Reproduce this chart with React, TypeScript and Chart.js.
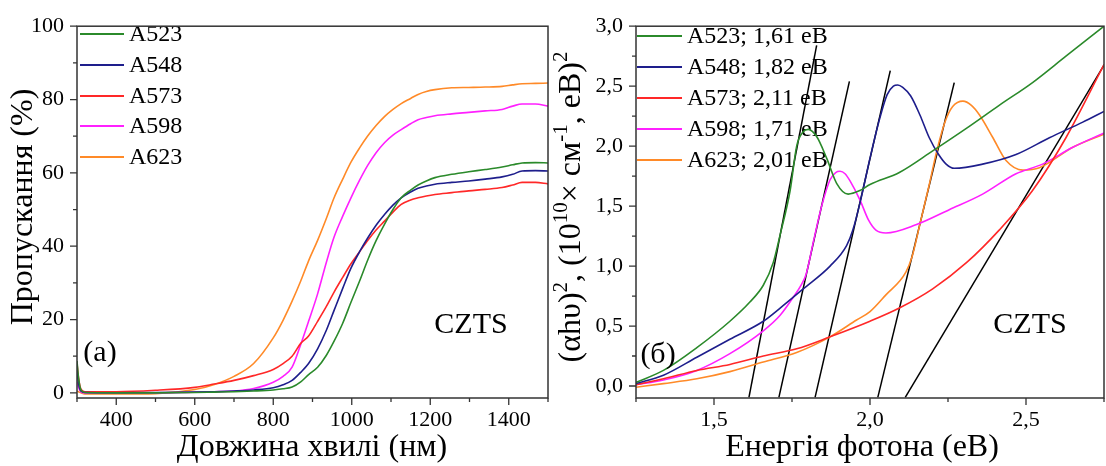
import { useEffect, useRef } from 'react';
import { Chart, registerables } from 'chart.js';
Chart.register(...registerables);

const SERIF = '"Liberation Serif", serif';
const AXIS = '#333333';

// ---------- shared series info ----------
const sampleNames = ['A523', 'A548', 'A573', 'A598', 'A623'];
const sampleColors = ['#2b8a2b', '#1e1e8c', '#ff2828', '#ff20ff', '#ff8a28'];
const gapLabels = ['1,61', '1,82', '2,11', '1,71', '2,01'];

// ---------- left panel: transmission ----------
const wavelengthNm = [300, 304, 310, 320, 400, 500, 600, 650, 700, 750, 800, 825, 848, 870, 890, 913, 935, 955, 977, 998, 1020, 1041, 1062, 1084, 1105, 1126, 1150, 1169, 1190, 1212, 1255, 1298, 1340, 1383, 1410, 1434, 1468, 1500];
const trA523 = [8.7, 4, 0.8, 0.1, 0, 0, 0.1, 0.2, 0.3, 0.5, 0.8, 1.1, 1.6, 3.0, 5.0, 7.0, 10.2, 14.1, 19, 24.7, 30.5, 36.3, 41.5, 46.1, 50, 53.2, 55.3, 56.7, 57.8, 58.7, 59.6, 60.3, 60.9, 61.6, 62.2, 62.7, 62.8, 62.7];
const trA548 = [6, 2.5, 0.5, 0.1, 0.05, 0.1, 0.2, 0.3, 0.5, 0.8, 1.4, 2.2, 3.4, 5.6, 8, 12, 17, 22.5, 28.5, 34, 38.5, 42.3, 45.7, 48.7, 51.2, 53.2, 54.8, 55.8, 56.4, 56.9, 57.4, 57.8, 58.3, 58.9, 59.6, 60.5, 60.6, 60.5];
const trA573 = [8, 4, 1, 0.3, 0.3, 0.7, 1.5, 2.4, 3.4, 4.7, 6.4, 8, 10, 13.5, 15.5, 19.5, 23.5, 27.5, 31.5, 35.2, 38.5, 41.6, 44.4, 46.9, 49.3, 51.4, 52.6, 53.2, 53.7, 54.1, 54.6, 55.1, 55.5, 56.0, 56.7, 57.4, 57.4, 57.0];
const trA598 = [3, 1.5, 0.3, 0, 0, 0, 0.2, 0.3, 0.5, 1.2, 2.9, 4.5, 7, 13.2, 19.5, 27, 35.5, 42.5, 48.2, 53.2, 58, 62.1, 65.5, 68.3, 70.3, 71.8, 73.4, 74.5, 75.1, 75.6, 76.1, 76.5, 76.9, 77.3, 78.2, 78.8, 78.8, 78.2];
const trA623 = [0.5, 0.3, 0, -0.3, -0.3, -0.2, 0.9, 2.3, 4.5, 8, 15, 19.8, 25, 30.5, 36, 41.6, 47.5, 53.2, 58.3, 62.9, 66.8, 70.1, 72.9, 75.4, 77.3, 78.9, 80.3, 81.4, 82.2, 82.7, 83.2, 83.3, 83.4, 83.6, 84.0, 84.3, 84.4, 84.5];
const leftXTicks = [400, 600, 800, 1000, 1200, 1400];
const leftYTicks = [0, 20, 40, 60, 80, 100];

// ---------- right panel: Tauc plot ----------
const eA523 = [1.25, 1.338, 1.445, 1.551, 1.615, 1.658, 1.69, 1.711, 1.744, 1.765, 1.786, 1.802, 1.829, 1.861, 1.893, 1.93, 1.968, 2.0, 2.094, 2.201, 2.31, 2.414, 2.521, 2.628, 2.75];
const vA523 = [0.03, 0.13, 0.32, 0.54, 0.70, 0.84, 1.03, 1.25, 1.63, 2.0, 2.12, 2.14, 2.08, 1.90, 1.69, 1.60, 1.63, 1.68, 1.78, 1.96, 2.15, 2.34, 2.53, 2.75, 3.0];
const eA548 = [1.25, 1.338, 1.445, 1.551, 1.658, 1.712, 1.786, 1.872, 1.925, 1.945, 1.97, 2.0, 2.03, 2.055, 2.075, 2.089, 2.105, 2.13, 2.16, 2.19, 2.22, 2.244, 2.27, 2.361, 2.468, 2.575, 2.682, 2.75];
const vA548 = [0.02, 0.09, 0.24, 0.39, 0.54, 0.65, 0.81, 1.0, 1.17, 1.3, 1.55, 1.9, 2.22, 2.43, 2.5, 2.51, 2.49, 2.42, 2.26, 2.07, 1.93, 1.85, 1.815, 1.85, 1.93, 2.07, 2.20, 2.29];
const eA573 = [1.25, 1.338, 1.445, 1.551, 1.658, 1.765, 1.872, 2.0, 2.094, 2.201, 2.31, 2.414, 2.521, 2.628, 2.75];
const vA573 = [0.01, 0.06, 0.13, 0.18, 0.25, 0.31, 0.41, 0.54, 0.65, 0.81, 1.03, 1.30, 1.63, 2.07, 2.68];
const eA598 = [1.25, 1.338, 1.445, 1.551, 1.658, 1.712, 1.754, 1.781, 1.795, 1.82, 1.845, 1.872, 1.89, 1.904, 1.92, 1.936, 1.968, 1.995, 2.019, 2.051, 2.147, 2.254, 2.361, 2.468, 2.553, 2.65, 2.75];
const vA598 = [0.01, 0.05, 0.13, 0.27, 0.46, 0.59, 0.74, 0.85, 0.93, 1.22, 1.5, 1.72, 1.78, 1.79, 1.77, 1.71, 1.55, 1.385, 1.30, 1.276, 1.344, 1.47, 1.60, 1.77, 1.85, 1.99, 2.11];
const eA623 = [1.25, 1.338, 1.445, 1.551, 1.658, 1.765, 1.872, 1.957, 2.0, 2.051, 2.115, 2.135, 2.16, 2.19, 2.215, 2.24, 2.265, 2.298, 2.325, 2.351, 2.394, 2.436, 2.49, 2.543, 2.65, 2.75];
const vA623 = [-0.01, 0.02, 0.06, 0.12, 0.20, 0.28, 0.41, 0.55, 0.62, 0.76, 0.95, 1.08, 1.35, 1.68, 1.97, 2.2, 2.33, 2.375, 2.34, 2.26, 2.07, 1.88, 1.80, 1.82, 1.99, 2.10];
// linear fits (start at bottom of frame, end at top of drawn segment)
const fitX0 = [1.612, 1.708, 1.824, 2.025, 2.113];
const fitY0 = [-0.095, -0.095, -0.095, -0.095, -0.095];
const fitX1 = [1.829, 1.934, 2.065, 2.27, 2.751];
const fitY1 = [2.84, 2.54, 2.63, 2.53, 2.68];
const rightXTicks = [1.5, 2.0, 2.5];
const rightYTicks = [0, 0.5, 1.0, 1.5, 2.0, 2.5, 3.0];

type Seg = { t: string; sup?: boolean };

function drawRich(ctx: CanvasRenderingContext2D, segs: Seg[], cx: number, cy: number, rotate: boolean, size: number, supSize: number) {
  ctx.save();
  ctx.translate(cx, cy);
  if (rotate) ctx.rotate(-Math.PI / 2);
  ctx.textBaseline = 'alphabetic';
  ctx.textAlign = 'left';
  ctx.fillStyle = '#000';
  let total = 0;
  const widths: number[] = [];
  for (const s of segs) {
    ctx.font = `${s.sup ? supSize : size}px ${SERIF}`;
    const w = ctx.measureText(s.t).width;
    widths.push(w);
    total += w;
  }
  let x = -total / 2;
  segs.forEach((s, i) => {
    ctx.font = `${s.sup ? supSize : size}px ${SERIF}`;
    ctx.fillText(s.t, x, s.sup ? -size * 0.4 : 0);
    x += widths[i];
  });
  ctx.restore();
}

type DecoCfg = {
  xMinorStart: number; xMinorStep: number; xMajor: number[];
  yMinorStart: number; yMinorStep: number; yMajor: number[];
  legendX0: number; legendX1: number; legendTextX: number; legendRows: number[]; legendLabels: string[];
  xTitle: { segs: Seg[]; x: number; y: number };
  yTitle: { segs: Seg[]; x: number; y: number };
  texts: { t: string; x: number; y: number; size: number }[];
};

function makeDeco(cfg: DecoCfg) {
  return {
    id: 'deco',
    beforeDatasetsDraw(chart: any) {
      const ctx: CanvasRenderingContext2D = chart.ctx;
      ctx.save();
      ctx.font = `24px ${SERIF}`;
      ctx.textBaseline = 'middle';
      ctx.textAlign = 'left';
      cfg.legendLabels.forEach((lab, i) => {
        const y = cfg.legendRows[i];
        ctx.strokeStyle = sampleColors[i];
        ctx.lineWidth = 1.8;
        ctx.beginPath();
        ctx.moveTo(cfg.legendX0, y);
        ctx.lineTo(cfg.legendX1, y);
        ctx.stroke();
        ctx.fillStyle = '#000';
        ctx.fillText(lab, cfg.legendTextX, y + 1);
      });
      ctx.restore();
    },
    afterDraw(chart: any) {
      const ctx: CanvasRenderingContext2D = chart.ctx;
      const a = chart.chartArea;
      const xs = chart.scales.x;
      const ys = chart.scales.y;
      ctx.save();
      ctx.strokeStyle = AXIS;
      ctx.lineWidth = 1.5;
      ctx.strokeRect(a.left, a.top, a.right - a.left, a.bottom - a.top);
      ctx.lineWidth = 1.3;
      ctx.beginPath();
      for (let i = 0; ; i++) {
        const v = cfg.xMinorStart + i * cfg.xMinorStep;
        if (v > xs.max + 1e-9) break;
        const major = cfg.xMajor.some((m) => Math.abs(m - v) < 1e-6);
        const p = xs.getPixelForValue(v);
        ctx.moveTo(p, a.bottom);
        ctx.lineTo(p, a.bottom + (major ? 7 : 4));
      }
      for (let i = 0; ; i++) {
        const v = cfg.yMinorStart + i * cfg.yMinorStep;
        if (v > ys.max + 1e-9) break;
        const major = cfg.yMajor.some((m) => Math.abs(m - v) < 1e-6);
        const p = ys.getPixelForValue(v);
        ctx.moveTo(a.left, p);
        ctx.lineTo(a.left - (major ? 7 : 4), p);
      }
      ctx.stroke();
      ctx.restore();
      drawRich(ctx, cfg.xTitle.segs, cfg.xTitle.x, cfg.xTitle.y, false, 32, 21);
      drawRich(ctx, cfg.yTitle.segs, cfg.yTitle.x, cfg.yTitle.y, true, 32, 21);
      ctx.save();
      ctx.fillStyle = '#000';
      ctx.textAlign = 'center';
      ctx.textBaseline = 'middle';
      for (const t of cfg.texts) {
        ctx.font = `${t.size}px ${SERIF}`;
        ctx.fillText(t.t, t.x, t.y);
      }
      ctx.restore();
    },
  };
}

function baseScales(opts: {
  xMin: number; xMax: number; yMin: number; yMax: number; xTicks: number[]; yTicks: number[];
  yWidth: number; fmt: (v: number) => string;
}) {
  const tickFont = { family: SERIF, size: 22 };
  return {
    x: {
      type: 'linear',
      min: opts.xMin,
      max: opts.xMax,
      afterBuildTicks: (s: any) => { s.ticks = opts.xTicks.map((v) => ({ value: v })); },
      afterFit: (s: any) => { s.height = 68; },
      grid: { display: false, drawTicks: false },
      border: { display: false },
      ticks: { font: tickFont, color: '#000', padding: 9, autoSkip: false, maxRotation: 0, callback: (v: any) => opts.fmt(Number(v)) },
    },
    y: {
      type: 'linear',
      min: opts.yMin,
      max: opts.yMax,
      afterBuildTicks: (s: any) => { s.ticks = opts.yTicks.map((v) => ({ value: v })); },
      afterFit: (s: any) => { s.width = opts.yWidth; },
      grid: { display: false, drawTicks: false },
      border: { display: false },
      ticks: { font: tickFont, color: '#000', padding: 13, autoSkip: false, callback: (v: any) => opts.fmt(Number(v)) },
    },
  };
}

const lineDefaults = { pointRadius: 0, borderWidth: 1.6, cubicInterpolationMode: 'monotone', fill: false };

export default function App() {
  const leftRef = useRef<HTMLCanvasElement>(null);
  const rightRef = useRef<HTMLCanvasElement>(null);

  useEffect(() => {
    document.body.style.margin = '0';
    let left: Chart | null = null;
    let right: Chart | null = null;
    let cancelled = false;

    const build = () => {
      if (cancelled || !leftRef.current || !rightRef.current) return;
      const leftSeries = [trA523, trA548, trA573, trA598, trA623];
      left = new Chart(leftRef.current, {
        type: 'line',
        data: {
          datasets: leftSeries.map((vals, i) => ({
            label: sampleNames[i],
            data: wavelengthNm.map((x, j) => ({ x, y: vals[j] })),
            borderColor: sampleColors[i],
            backgroundColor: sampleColors[i],
            ...lineDefaults,
          })) as any,
        },
        options: {
          responsive: false,
          animation: false,
          layout: { padding: { left: 0, right: 2, top: 17, bottom: 0 } },
          plugins: { legend: { display: false }, tooltip: { enabled: false } },
          scales: baseScales({
            xMin: 300, xMax: 1500, yMin: -1.4, yMax: 100, xTicks: leftXTicks, yTicks: leftYTicks,
            yWidth: 77, fmt: (v) => String(v),
          }) as any,
        },
        plugins: [makeDeco({
          xMinorStart: 300, xMinorStep: 100, xMajor: leftXTicks,
          yMinorStart: 0, yMinorStep: 10, yMajor: leftYTicks,
          legendX0: 80, legendX1: 124, legendTextX: 129, legendRows: [34, 65, 96, 126, 157],
          legendLabels: sampleNames,
          xTitle: { segs: [{ t: 'Довжина хвилі (нм)' }], x: 312, y: 456 },
          yTitle: { segs: [{ t: 'Пропускання (%)' }], x: 32, y: 207 },
          texts: [
            { t: 'CZTS', x: 471, y: 325, size: 30 },
            { t: '(a)', x: 100, y: 353, size: 30 },
          ],
        })],
      });

      const eList = [eA523, eA548, eA573, eA598, eA623];
      const vList = [vA523, vA548, vA573, vA598, vA623];
      const curveSets = eList.map((es, i) => ({
        label: sampleNames[i],
        data: es.map((x, j) => ({ x, y: vList[i][j] })),
        borderColor: sampleColors[i],
        backgroundColor: sampleColors[i],
        ...lineDefaults,
      }));
      const fitSets = fitX0.map((x0, i) => ({
        label: 'fit ' + sampleNames[i],
        data: [{ x: x0, y: fitY0[i] }, { x: fitX1[i], y: fitY1[i] }],
        borderColor: '#000',
        backgroundColor: '#000',
        pointRadius: 0,
        borderWidth: 1.5,
        tension: 0,
        fill: false,
      }));
      right = new Chart(rightRef.current, {
        type: 'line',
        data: { datasets: [...curveSets, ...fitSets] as any },
        options: {
          responsive: false,
          animation: false,
          layout: { padding: { left: 0, right: 2, top: 20, bottom: 0 } },
          plugins: { legend: { display: false }, tooltip: { enabled: false } },
          scales: baseScales({
            xMin: 1.25, xMax: 2.75, yMin: -0.1, yMax: 3.0, xTicks: rightXTicks, yTicks: rightYTicks,
            yWidth: 86, fmt: (v) => v.toFixed(1).replace('.', ','),
          }) as any,
        },
        plugins: [makeDeco({
          xMinorStart: 1.25, xMinorStep: 0.25, xMajor: rightXTicks,
          yMinorStart: 0, yMinorStep: 0.25, yMajor: rightYTicks,
          legendX0: 87, legendX1: 132, legendTextX: 137, legendRows: [36, 67, 98, 129, 160],
          legendLabels: sampleNames.map((n, i) => `${n}; ${gapLabels[i]} eВ`),
          xTitle: { segs: [{ t: 'Енергія фотона (eВ)' }], x: 312, y: 456 },
          yTitle: {
            segs: [
              { t: '(αhυ)' }, { t: '2', sup: true }, { t: ', (10' }, { t: '10', sup: true },
              { t: '× см' }, { t: '-1', sup: true }, { t: ', eВ)' }, { t: '2', sup: true },
            ],
            x: 30, y: 207,
          },
          texts: [
            { t: 'CZTS', x: 480, y: 325, size: 30 },
            { t: '(б)', x: 108, y: 355, size: 30 },
          ],
        })],
      });
    };

    const fontsApi: any = (document as any).fonts;
    if (fontsApi && fontsApi.ready) {
      fontsApi.ready.then(build, build);
    } else {
      build();
    }

    return () => {
      cancelled = true;
      if (left) left.destroy();
      if (right) right.destroy();
    };
  }, []);

  return (
    <div style={{ display: 'flex', width: 1106, height: 466, background: '#fff' }}>
      <canvas ref={leftRef} width={550} height={466} style={{ display: 'block' }} />
      <canvas ref={rightRef} width={556} height={466} style={{ display: 'block' }} />
    </div>
  );
}
